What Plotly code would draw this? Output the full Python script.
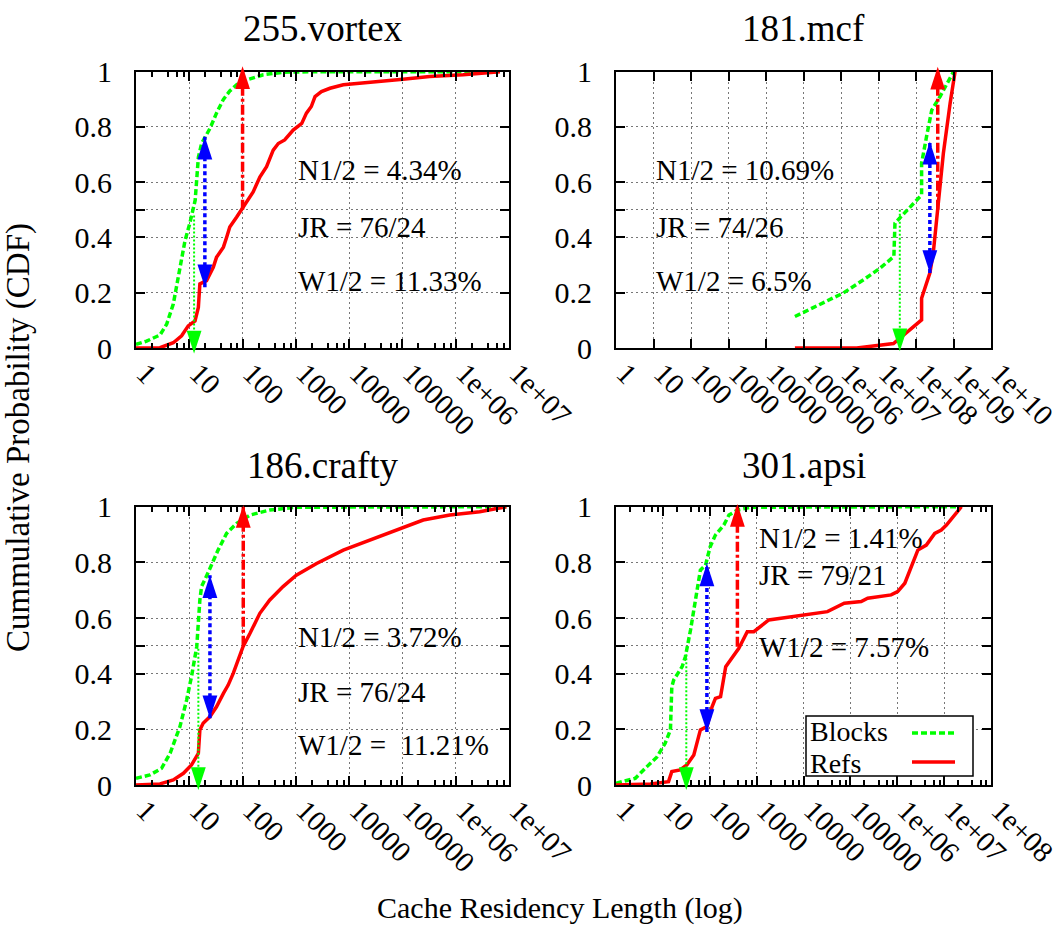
import math
import plotly.graph_objects as go

# ---------------- data ----------------
# 255.vortex
vortex_blocks_x = [1, 1.58, 2.82, 3.76, 5.01, 6.68, 8.32, 10.2, 12.9, 14.8, 17.0, 24.5, 32.4, 43.7, 57.5, 77.6, 110, 245, 575, 2140, 6.76e6]
vortex_blocks_y = [0.013, 0.025, 0.047, 0.086, 0.159, 0.292, 0.389, 0.45, 0.535, 0.69, 0.74, 0.795, 0.85, 0.90, 0.93, 0.953, 0.968, 0.989, 0.998, 1.0, 1.0]
vortex_refs_x = [1, 2.82, 5.01, 7.18, 9.55, 12.8, 14.8, 15.8, 21.1, 28.2, 32.4, 43.7, 50.1, 57.5, 77.6, 102, 129, 158, 211, 282, 376, 468, 617, 891, 1290, 1580, 1950, 2290, 3020, 4370, 7760, 18200, 43600, 102000, 324000, 1.38e6, 6.76e6]
vortex_refs_y = [0, 0.001, 0.019, 0.044, 0.08, 0.098, 0.147, 0.232, 0.244, 0.292, 0.328, 0.365, 0.40, 0.438, 0.474, 0.51, 0.535, 0.565, 0.619, 0.656, 0.716, 0.74, 0.753, 0.789, 0.813, 0.85, 0.874, 0.91, 0.928, 0.94, 0.953, 0.959, 0.965, 0.973, 0.983, 0.989, 1.0]

# 181.mcf
mcf_blocks_x = [5.9e4, 3.4e5, 1.15e6, 4.0e6, 1.1e7, 2.57e7, 2.75e7, 1.41e8, 1.41e8, 1.91e8, 2.63e8, 4.37e8, 1.0e9]
mcf_blocks_y = [0.114, 0.163, 0.199, 0.247, 0.289, 0.331, 0.452, 0.554, 0.669, 0.765, 0.861, 0.91, 1.0]
mcf_refs_x = [5.9e4, 2.63e6, 2.51e7, 1.41e8, 1.41e8, 2.34e8, 2.88e8, 3.98e8, 5.37e8, 8.13e8, 1.1e9]
mcf_refs_y = [0, 0, 0.016, 0.102, 0.18, 0.271, 0.343, 0.536, 0.705, 0.886, 1.0]

# 186.crafty
crafty_blocks_x = [1, 1.82, 3.02, 4.37, 6.68, 8.91, 11.0, 13.8, 15.8, 17.0, 22.9, 28.2, 34.7, 50.1, 77.6, 138, 324, 1020, 8.9e6]
crafty_blocks_y = [0.024, 0.036, 0.06, 0.114, 0.21, 0.305, 0.389, 0.497, 0.665, 0.713, 0.766, 0.808, 0.844, 0.904, 0.94, 0.97, 0.988, 0.998, 1.0]
crafty_refs_x = [1, 2.82, 5.01, 7.76, 11.0, 14.8, 15.8, 18.2, 24.5, 32.4, 43.7, 53.7, 66.8, 83.2, 102, 138, 211, 324, 575, 1020, 2450, 7760, 24500, 77600, 245000, 776000, 2.82e6, 8.9e6]
crafty_refs_y = [0, 0.004, 0.018, 0.042, 0.072, 0.114, 0.198, 0.222, 0.246, 0.281, 0.329, 0.359, 0.401, 0.449, 0.497, 0.545, 0.617, 0.665, 0.713, 0.754, 0.796, 0.844, 0.88, 0.916, 0.952, 0.97, 0.982, 1.0]

# 301.apsi
apsi_blocks_x = [1, 2.57, 4.57, 7.41, 11.2, 14.5, 15.5, 17.0, 25.7, 30.2, 38.9, 49.0, 63.1, 81.3, 102, 132, 200, 257, 389, 741, 2.0e7]
apsi_blocks_y = [0.006, 0.024, 0.066, 0.1, 0.15, 0.198, 0.353, 0.377, 0.425, 0.461, 0.557, 0.665, 0.772, 0.79, 0.856, 0.898, 0.934, 0.97, 0.988, 0.998, 1.0]
apsi_refs_x = [1, 5.37, 13.2, 15.5, 23.4, 32.4, 45.7, 63.1, 87.1, 112, 132, 170, 219, 275, 417, 631, 871, 1820, 6310, 32400, 74100, 170000, 234000, 741000, 1.02e6, 1.45e6, 2.75e6, 4.17e6, 6.31e6, 8.71e6, 1.12e7, 1.45e7, 2.19e7, 2.34e7]
apsi_refs_y = [0, 0.004, 0.012, 0.048, 0.054, 0.072, 0.108, 0.198, 0.21, 0.281, 0.311, 0.317, 0.425, 0.449, 0.491, 0.551, 0.551, 0.593, 0.605, 0.623, 0.653, 0.659, 0.671, 0.683, 0.695, 0.725, 0.844, 0.862, 0.904, 0.916, 0.934, 0.958, 0.994, 1.0]

# arrows: (x position, y from, y tip)
titles = ["255.vortex", "181.mcf", "186.crafty", "301.apsi"]
green_arrows = [(12.3, 0.48, -0.02), (3.7e7, 0.5, -0.012), (14.8, 0.49, -0.018), (31.6, 0.47, -0.018)]
blue_arrows = [(19.6, 0.22, 0.765), (2.34e8, 0.271, 0.747), (24.4, 0.24, 0.754), (87.0, 0.19, 0.796)]
red_arrows = [(100, 0.5, 1.02), (3.8e8, 0.5, 1.018), (103, 0.5, 1.006), (389, 0.497, 1.01)]
stat_texts = [["N1/2 = 4.34%", "JR = 76/24", "W1/2 = 11.33%"],
              ["N1/2 = 10.69%", "JR = 74/26", "W1/2 = 6.5%"],
              ["N1/2 = 3.72%", "JR = 76/24", "W1/2 =  11.21%"],
              ["N1/2 = 1.41%", "JR = 79/21", "W1/2 = 7.57%"]]
stat_text_x = [1000, 10, 1000, 1000]
stat_text_y = [[0.644, 0.438, 0.244], [0.644, 0.438, 0.244], [0.532, 0.335, 0.144], [0.888, 0.755, 0.497]]
x_decades = [7, 10, 7, 8]
tick_labels_all = ["1", "10", "100", "1000", "10000", "100000", "1e+06", "1e+07", "1e+08", "1e+09", "1e+10"]
y_tickvals = [0, 0.2, 0.4, 0.5, 0.6, 0.8, 1]
y_ticktext = ["0", "0.2", "0.4", "", "0.6", "0.8", "1"]

series = [(vortex_blocks_x, vortex_blocks_y, vortex_refs_x, vortex_refs_y),
          (mcf_blocks_x, mcf_blocks_y, mcf_refs_x, mcf_refs_y),
          (crafty_blocks_x, crafty_blocks_y, crafty_refs_x, crafty_refs_y),
          (apsi_blocks_x, apsi_blocks_y, apsi_refs_x, apsi_refs_y)]

# ---------------- style ----------------
FONT = "Liberation Serif"
GREEN = "#00ff00"
RED = "#ff0000"
BLUE = "#0000ff"
W, H = 1060, 927
xdom = [[136 / W, 509 / W], [616 / W, 991 / W], [136 / W, 509 / W], [616 / W, 991 / W]]
ydom_top = [1 - 348 / H, 1 - 71.7 / H]
ydom_bot = [1 - 785 / H, 1 - 506.7 / H]
ydom = [ydom_top, ydom_top, ydom_bot, ydom_bot]
HEAD = 24
EXT = 30  # px of extra room for arrow heads that poke out of the frame

fig = go.Figure()

for i in range(4):
    xa = "x" if i == 0 else f"x{i+1}"
    ya = "y" if i == 0 else f"y{i+1}"
    xo, yo = f"x{5+i}", f"y{5+i}"  # invisible twin axes (same scale, wider y room) for arrow heads
    plot_h = (ydom[i][1] - ydom[i][0]) * H
    bx, by, rx, ry = series[i]
    fig.add_trace(go.Scatter(x=bx, y=by, mode="lines", xaxis=xa, yaxis=ya,
                             line=dict(color=GREEN, width=3.5, dash="6px,3px"), showlegend=False))
    fig.add_trace(go.Scatter(x=rx, y=ry, mode="lines", xaxis=xa, yaxis=ya,
                             line=dict(color=RED, width=3.5), showlegend=False))
    gx, gy0, gy1 = green_arrows[i]
    bxa, by0, by1 = blue_arrows[i]
    rxa, ry0, ry1 = red_arrows[i]
    fig.add_trace(go.Scatter(x=[gx, gx], y=[gy0, gy1], mode="lines", xaxis=xa, yaxis=ya,
                             line=dict(color=GREEN, width=2, dash="2px,2px"), showlegend=False))
    fig.add_trace(go.Scatter(x=[bxa, bxa], y=[by0, by1], mode="lines", xaxis=xa, yaxis=ya,
                             line=dict(color=BLUE, width=3.5, dash="4px,3px"), showlegend=False))
    fig.add_trace(go.Scatter(x=[rxa, rxa], y=[ry0, ry1], mode="lines", xaxis=xa, yaxis=ya,
                             line=dict(color=RED, width=3.5, dash="10px,3px,3px,3px"), showlegend=False))
    # arrow heads (tip at the data point)
    fig.add_trace(go.Scatter(x=[gx, bxa, bxa, rxa], y=[gy1, by0, by1, ry1], mode="markers",
                             xaxis=xo, yaxis=yo, cliponaxis=False, hoverinfo="skip", showlegend=False,
                             marker=dict(symbol="arrow", angle=[180, 180, 0, 0], size=HEAD,
                                         color=[GREEN, BLUE, BLUE, RED], line=dict(width=0))))

    nd = x_decades[i]
    tv = [10 ** k for k in range(nd + 1)]
    tt = tick_labels_all[:nd + 1]
    minor_vals = [m * 10 ** k for k in range(nd) for m in (2, 4, 6, 8)]
    xkey = "xaxis" if i == 0 else f"xaxis{i+1}"
    ykey = "yaxis" if i == 0 else f"yaxis{i+1}"
    xaxis = dict(type="log", range=[0, nd], domain=xdom[i], anchor=ya, automargin=False,
                 tickvals=tv, ticktext=tt, tickangle=45,
                 ticks="inside", ticklen=9, tickwidth=1.5, tickcolor="black",
                 showline=True, linecolor="black", linewidth=2, mirror="ticks",
                 showgrid=True, gridcolor="#777777", gridwidth=1, griddash="2px,3px",
                 zeroline=False, ticklabelstandoff=-5, ticklabelshift=9,
                 tickfont=dict(family=FONT, size=29, color="black"))
    if i != 1:
        xaxis["minor"] = dict(tickvals=minor_vals, ticks="inside", ticklen=5, tickwidth=1.5,
                              tickcolor="black", showgrid=False)
    fig.layout[xkey] = xaxis
    fig.layout[ykey] = dict(range=[0, 1], domain=ydom[i], anchor=xa, automargin=False,
                            tickvals=y_tickvals, ticktext=y_ticktext,
                            ticks="inside", ticklen=9, tickwidth=1.5, tickcolor="black",
                            showline=True, linecolor="black", linewidth=2, mirror="ticks",
                            showgrid=True, gridcolor="#777777", gridwidth=1, griddash="2px,3px",
                            zeroline=False, ticklabelstandoff=16,
                            tickfont=dict(family=FONT, size=30, color="black"))
    ext = EXT / H
    fig.layout[f"xaxis{5+i}"] = dict(type="log", range=[0, nd], domain=xdom[i], anchor=yo,
                                     visible=False, showgrid=False, zeroline=False, automargin=False)
    fig.layout[f"yaxis{5+i}"] = dict(range=[-EXT / plot_h, 1 + EXT / plot_h],
                                     domain=[ydom[i][0] - ext, ydom[i][1] + ext], anchor=xo,
                                     visible=False, showgrid=False, zeroline=False, automargin=False)

    for t, yv in zip(stat_texts[i], stat_text_y[i]):
        fig.add_annotation(x=math.log10(stat_text_x[i]), y=yv, xref=xa, yref=ya, text=t,
                           showarrow=False, xanchor="left", yanchor="middle",
                           font=dict(family=FONT, size=29, color="black"))
    # subplot titles
    cx = (xdom[i][0] + xdom[i][1]) / 2
    ty = 1 - 28 / H if i < 2 else 1 - 466 / H
    fig.add_annotation(x=cx, y=ty, xref="paper", yref="paper", text=titles[i], showarrow=False,
                       xanchor="center", yanchor="middle", font=dict(family=FONT, size=37, color="black"))

# axis titles
fig.add_annotation(x=560 / W, y=1 - 908 / H, xref="paper", yref="paper", text="Cache Residency Length (log)",
                   showarrow=False, xanchor="center", yanchor="middle", font=dict(family=FONT, size=30, color="black"))
fig.add_annotation(x=19 / W, y=1 - 438 / H, xref="paper", yref="paper", text="Cummulative Probability (CDF)",
                   textangle=-90, showarrow=False, xanchor="center", yanchor="middle",
                   font=dict(family=FONT, size=33, color="black"))

# legend (gnuplot style: label left, sample right)
fig.add_shape(type="rect", xref="paper", yref="paper", x0=806 / W, x1=973 / W, y0=1 - 776 / H, y1=1 - 716 / H,
              line=dict(color="black", width=1.5), fillcolor="white", layer="above")
fig.add_annotation(x=808 / W, y=1 - 731 / H, xref="paper", yref="paper", text="Blocks", showarrow=False,
                   xanchor="left", yanchor="middle", font=dict(family=FONT, size=28, color="black"))
fig.add_annotation(x=808 / W, y=1 - 763 / H, xref="paper", yref="paper", text="Refs", showarrow=False,
                   xanchor="left", yanchor="middle", font=dict(family=FONT, size=28, color="black"))
fig.add_shape(type="line", xref="paper", yref="paper", x0=912 / W, x1=955 / W, y0=1 - 733 / H, y1=1 - 733 / H,
              line=dict(color=GREEN, width=3.5, dash="6px,3px"), layer="above")
fig.add_shape(type="line", xref="paper", yref="paper", x0=912 / W, x1=955 / W, y0=1 - 762 / H, y1=1 - 762 / H,
              line=dict(color=RED, width=3.5), layer="above")

fig.update_layout(width=W, height=H, margin=dict(l=0, r=0, t=0, b=0, autoexpand=False),
                  font=dict(family=FONT, color="black"),
                  paper_bgcolor="white", plot_bgcolor="rgba(0,0,0,0)", showlegend=False)
fig.write_html("out.html")
